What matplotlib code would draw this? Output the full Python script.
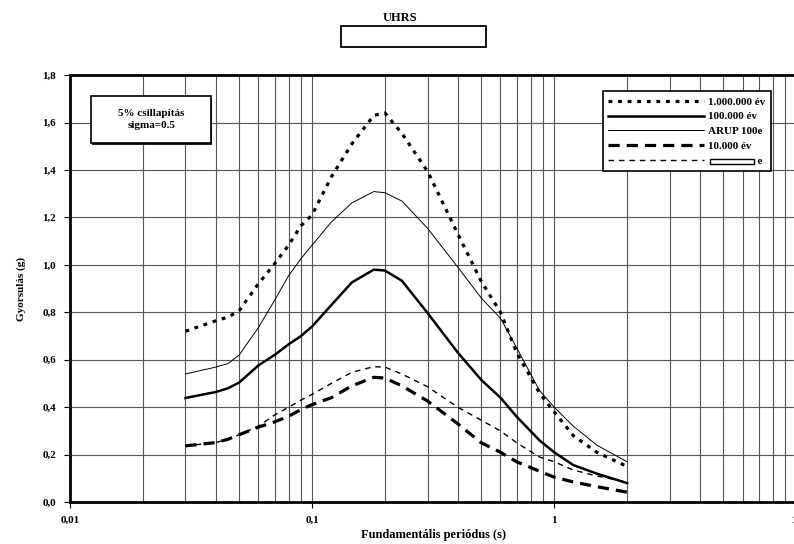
import matplotlib.pyplot as plt
from matplotlib.patches import Rectangle
from matplotlib.ticker import FixedLocator, FixedFormatter, LogLocator, NullFormatter

# periodusok (s)
periods = [0.03, 0.04, 0.045, 0.05, 0.06, 0.07, 0.08, 0.09, 0.1, 0.12, 0.146, 0.18, 0.2,
           0.235, 0.3, 0.4, 0.5, 0.6, 0.7, 0.87, 1.0, 1.2, 1.5, 2.0]

# gyorsulas (g)
ev_1m = [0.72, 0.764, 0.78, 0.807, 0.92, 1.004, 1.083, 1.165, 1.21, 1.37, 1.51, 1.63, 1.64,
         1.554, 1.394, 1.13, 0.93, 0.80, 0.63, 0.46, 0.38, 0.28, 0.21, 0.15]
ev_100k = [0.439, 0.464, 0.48, 0.504, 0.576, 0.62, 0.665, 0.70, 0.74, 0.83, 0.926, 0.98, 0.976,
           0.933, 0.797, 0.63, 0.515, 0.44, 0.36, 0.26, 0.21, 0.156, 0.12, 0.08]
arup = [0.54, 0.569, 0.584, 0.62, 0.735, 0.85, 0.954, 1.026, 1.083, 1.18, 1.261, 1.309, 1.304,
        1.269, 1.154, 0.99, 0.86, 0.775, 0.65, 0.47, 0.40, 0.32, 0.24, 0.17]
ev_10k = [0.237, 0.251, 0.265, 0.284, 0.316, 0.338, 0.362, 0.39, 0.411, 0.44, 0.49, 0.526, 0.523,
          0.49, 0.426, 0.33, 0.25, 0.21, 0.17, 0.13, 0.105, 0.085, 0.065, 0.042]
masik = [0.237, 0.251, 0.265, 0.284, 0.32, 0.367, 0.40, 0.43, 0.454, 0.50, 0.547, 0.571, 0.569,
         0.54, 0.486, 0.40, 0.345, 0.30, 0.25, 0.19, 0.17, 0.135, 0.11, 0.085]

x_ticks = [0.01, 0.1, 1, 10]
x_labels = ["0,01", "0,1", "1", "10"]
y_ticks = [0.0, 0.2, 0.4, 0.6, 0.8, 1.0, 1.2, 1.4, 1.6, 1.8]
y_labels = ["0,0", "0,2", "0,4", "0,6", "0,8", "1,0", "1,2", "1,4", "1,6", "1,8"]

plt.rcParams['font.family'] = ['Liberation Serif', 'DejaVu Serif']
plt.rcParams['font.weight'] = 'bold'

fig = plt.figure(figsize=(7.94, 5.44), dpi=100)
ax = fig.add_axes([0.088, 0.077, 0.915, 0.785])

ax.plot(periods, ev_1m, color='black', lw=2.3, dashes=(1.2, 1.8), label='1.000.000 év')
ax.plot(periods, ev_100k, color='black', lw=1.8, label='100.000 év')
ax.plot(periods, arup, color='black', lw=0.7, label='ARUP 100e')
ax.plot(periods, ev_10k, color='black', lw=2.3, dashes=(3.5, 2.2), label='10.000 év')
ax.plot(periods, masik, color='black', lw=1.0, dashes=(4, 3.5), label='                  e')

ax.set_xscale('log')
ax.set_xlim(0.01, 10)
ax.set_ylim(0, 1.8)
ax.xaxis.set_major_locator(FixedLocator(x_ticks))
ax.xaxis.set_major_formatter(FixedFormatter(x_labels))
ax.xaxis.set_minor_locator(LogLocator(base=10, subs=range(2, 10)))
ax.xaxis.set_minor_formatter(NullFormatter())
ax.yaxis.set_major_locator(FixedLocator(y_ticks))
ax.yaxis.set_major_formatter(FixedFormatter(y_labels))

ax.grid(True, which='both', color='#555555', lw=0.8)
ax.tick_params(axis='both', which='major', direction='out', length=4, labelsize=8, pad=6)
ax.tick_params(axis='x', which='minor', length=0)
for sp in ax.spines.values():
    sp.set_linewidth(2)

ax.set_xlabel('Fundamentális periódus (s)', fontsize=9, fontweight='bold', labelpad=3)
ax.set_ylabel('Gyorsulás (g)', fontsize=8, fontweight='bold', labelpad=12)

fig.text(0.504, 0.967, 'UHRS', ha='center', va='center', fontsize=9, fontweight='bold')
fig.patches.append(Rectangle((0.43, 0.914), 0.182, 0.038, transform=fig.transFigure,
                             fill=False, edgecolor='black', lw=1.3))

# csillapitas doboz, kis arnyekkal
ax.add_patch(Rectangle((0.031, 0.837), 0.165, 0.11, transform=ax.transAxes,
                       facecolor='#222222', edgecolor='none', zorder=4))
ax.add_patch(Rectangle((0.029, 0.841), 0.165, 0.11, transform=ax.transAxes,
                       facecolor='white', edgecolor='black', lw=1.2, zorder=5))
ax.text(0.112, 0.896, '5% csillapítás\nsigma=0.5', transform=ax.transAxes, ha='center', va='center',
        fontsize=8, fontweight='bold', linespacing=1.3, zorder=6)

leg = ax.legend(loc='upper right', bbox_to_anchor=(0.973, 0.975), fontsize=8, frameon=True,
                fancybox=False, edgecolor='black', framealpha=1, handlelength=8.6,
                labelspacing=0.45, borderpad=0.5, handletextpad=0.4)
leg.get_frame().set_linewidth(1.2)

# ures doboz az utolso felirat elott
fig.canvas.draw()
bb = leg.get_texts()[-1].get_window_extent().transformed(fig.transFigure.inverted())
fig.patches.append(Rectangle((bb.x0 + 0.002, bb.y0 + 0.004), bb.width - 0.013, bb.height - 0.008,
                             transform=fig.transFigure, fill=False, edgecolor='black', lw=1))

fig.savefig('out.png', dpi=100)
